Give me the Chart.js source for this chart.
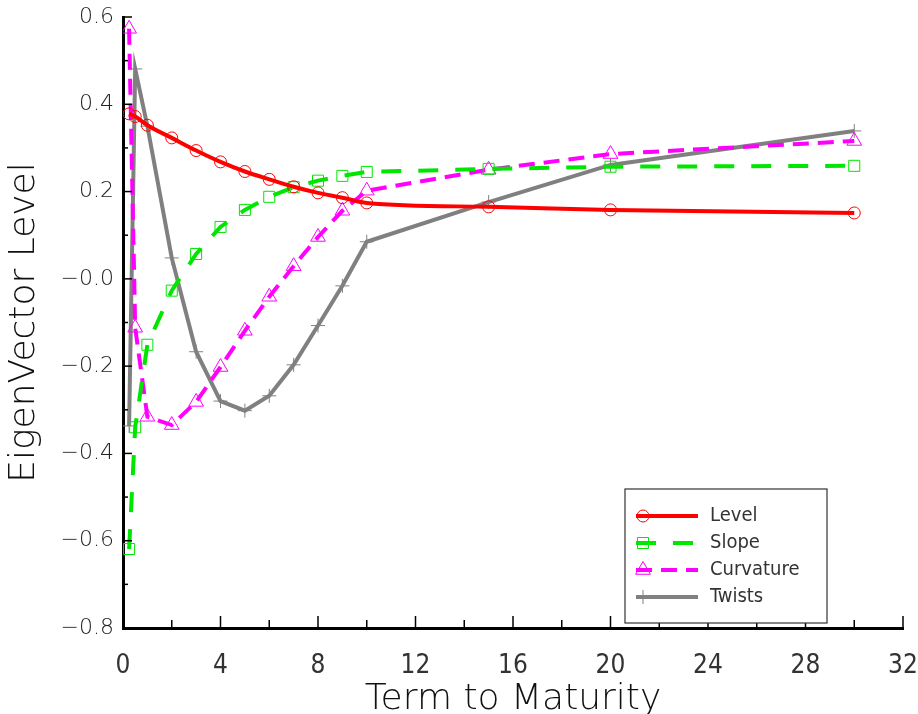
<!DOCTYPE html>
<html>
<head>
<meta charset="utf-8">
<script src="https://cdn.jsdelivr.net/npm/chart.js@4.4.1/dist/chart.umd.min.js"></script>
<style>
  html, body { margin: 0; padding: 0; background: #fff; }
  #wrap { width: 918px; height: 714px; }
</style>
</head>
<body>
<div id="wrap"><canvas id="grafico" width="918" height="714"></canvas></div>
<script>
    // dados
    const prazos = [0.25, 0.5, 1, 2, 3, 4, 5, 6, 7, 8, 9, 10, 15, 20, 30];
    const level = [0.378, 0.372, 0.352, 0.323, 0.294, 0.268, 0.246, 0.228, 0.211, 0.197, 0.186, 0.174, 0.165, 0.158, 0.151];
    const slope = [-0.619, -0.340, -0.151, -0.027, 0.057, 0.119, 0.158, 0.188, 0.210, 0.225, 0.236, 0.245, 0.252, 0.257, 0.259];
    const curvature = [0.573, -0.112, -0.316, -0.335, -0.282, -0.202, -0.119, -0.041, 0.029, 0.096, 0.156, 0.202, 0.250, 0.286, 0.316];
    const twists = [-0.337, 0.481, 0.350, 0.048, -0.167, -0.280, -0.302, -0.268, -0.197, -0.107, -0.016, 0.085, 0.176, 0.261, 0.339];
    const xTicks = [0, 4, 8, 12, 16, 20, 24, 28, 32];
    const yTicks = [-0.8, -0.6, -0.4, -0.2, 0, 0.2, 0.4, 0.6];

    const pontos = arr => prazos.map((x, i) => ({ x, y: arr[i] }));

    function fmtY(v) {
      const r = Math.round(v * 10) / 10;
      if (r === 0) return '\u22120.0';
      return r < 0 ? '\u2212' + Math.abs(r).toFixed(1) : r.toFixed(1);
    }

    // ticks para dentro (maiores e menores)
    const ticksInternos = {
      id: 'ticksInternos',
      afterDatasetsDraw(chart) {
        const { ctx, chartArea, scales } = chart;
        ctx.save();
        ctx.strokeStyle = '#000';
        ctx.lineWidth = 1.5;
        for (let v = 2; v <= 32; v += 2) {
          const px = scales.x.getPixelForValue(v);
          const len = v % 4 === 0 ? 12 : 8;
          ctx.beginPath();
          ctx.moveTo(px, chartArea.bottom);
          ctx.lineTo(px, chartArea.bottom - len);
          ctx.stroke();
        }
        for (let k = -7; k <= 6; k++) {
          const py = scales.y.getPixelForValue(k / 10);
          const len = k % 2 === 0 ? 9 : 5;
          ctx.beginPath();
          ctx.moveTo(chartArea.left, py);
          ctx.lineTo(chartArea.left + len, py);
          ctx.stroke();
        }
        ctx.restore();
      }
    };

    // legenda dentro do gráfico
    const legendaCaixa = {
      id: 'legendaCaixa',
      afterDraw(chart) {
        const { ctx, chartArea } = chart;
        const bx = chartArea.right - 278, by = chartArea.bottom - 139, bw = 202, bh = 134;
        ctx.save();
        ctx.fillStyle = '#fff';
        ctx.fillRect(bx, by, bw, bh);
        ctx.strokeStyle = '#333';
        ctx.lineWidth = 1.2;
        ctx.strokeRect(bx, by, bw, bh);
        chart.data.datasets.forEach((ds, i) => {
          const y = by + 27 + i * 27;
          ctx.strokeStyle = ds.borderColor;
          ctx.lineWidth = ds.borderWidth;
          ctx.setLineDash(ds.borderDash || []);
          ctx.beginPath();
          ctx.moveTo(bx + 11, y);
          ctx.lineTo(bx + 73, y);
          ctx.stroke();
          ctx.setLineDash([]);
          ctx.lineWidth = 1;
          ctx.strokeStyle = ds.pointBorderColor;
          ctx.fillStyle = 'rgba(0,0,0,0)';
          Chart.helpers.drawPoint(ctx, { pointStyle: ds.pointStyle, radius: ds.pointRadius, rotation: 0, borderWidth: 1 }, bx + 18, y);
          ctx.fillStyle = '#333';
          ctx.font = '20px "DejaVu Sans Condensed", "DejaVu Sans"';
          ctx.textBaseline = 'middle';
          ctx.fillText(ds.label, bx + 85, y);
        });
        ctx.restore();
      }
    };

    function serie(label, dados, cor, estilo, raio, dash, extra) {
      return Object.assign({
        label,
        data: pontos(dados),
        borderColor: cor,
        borderWidth: 4,
        borderDash: dash,
        pointStyle: estilo,
        pointRadius: raio,
        pointHoverRadius: raio,
        pointBorderColor: cor,
        pointBackgroundColor: 'rgba(0,0,0,0)',
        pointBorderWidth: 1,
        fill: false,
        tension: 0
      }, extra || {});
    }

    const ctx = document.getElementById('grafico').getContext('2d');
    const chart = new Chart(ctx, {
      type: 'line',
      data: {
        datasets: [
          serie('Level', level, '#ff0000', 'circle', 6, [], { cubicInterpolationMode: 'monotone' }),
          serie('Slope', slope, '#00e600', 'rect', 7.8, [20, 17]),
          serie('Curvature', curvature, '#ff00ff', 'triangle', 8.5, [16, 9]),
          serie('Twists', twists, '#808080', 'cross', 7, [])
        ]
      },
      options: {
        responsive: false,
        animation: false,
        layout: { padding: { top: 17, right: 15, left: 0, bottom: 0 } },
        plugins: { legend: { display: false }, tooltip: { enabled: false } },
        scales: {
          x: {
            type: 'linear',
            min: 0,
            max: 32,
            afterFit: s => { s.height = 86; s.paddingLeft = 0; s.paddingRight = 0; },
            afterBuildTicks: s => { s.ticks = xTicks.map(v => ({ value: v })); },
            grid: { display: false },
            border: { display: true, color: '#000', width: 3 },
            ticks: { color: '#333', padding: 15, maxRotation: 0, font: { family: '"Liberation Sans Narrow", "DejaVu Sans Condensed", "DejaVu Sans"', size: 26 } },
            title: { display: true, text: 'Term to Maturity', color: '#111', padding: { top: 0, bottom: 0 }, font: { family: '"DejaVu Sans"', size: 36, weight: '200', lineHeight: 0.8 } }
          },
          y: {
            type: 'linear',
            min: -0.8,
            max: 0.6,
            afterFit: s => { s.width = 123; s.paddingTop = 0; s.paddingBottom = 0; },
            afterBuildTicks: s => { s.ticks = yTicks.map(v => ({ value: v })); },
            grid: { display: false },
            border: { display: true, color: '#000', width: 3 },
            ticks: { color: '#222', padding: 1, callback: v => fmtY(v), font: { family: '"DejaVu Sans"', size: 22, weight: '200' } },
            title: { display: true, text: 'EigenVector Level', color: '#111', padding: { top: 7, bottom: 0 }, font: { family: '"DejaVu Sans"', size: 36, weight: '200', lineHeight: 1.0 } }
          }
        }
      },
      plugins: [ticksInternos, legendaCaixa]
    });
</script>
</body>
</html>
